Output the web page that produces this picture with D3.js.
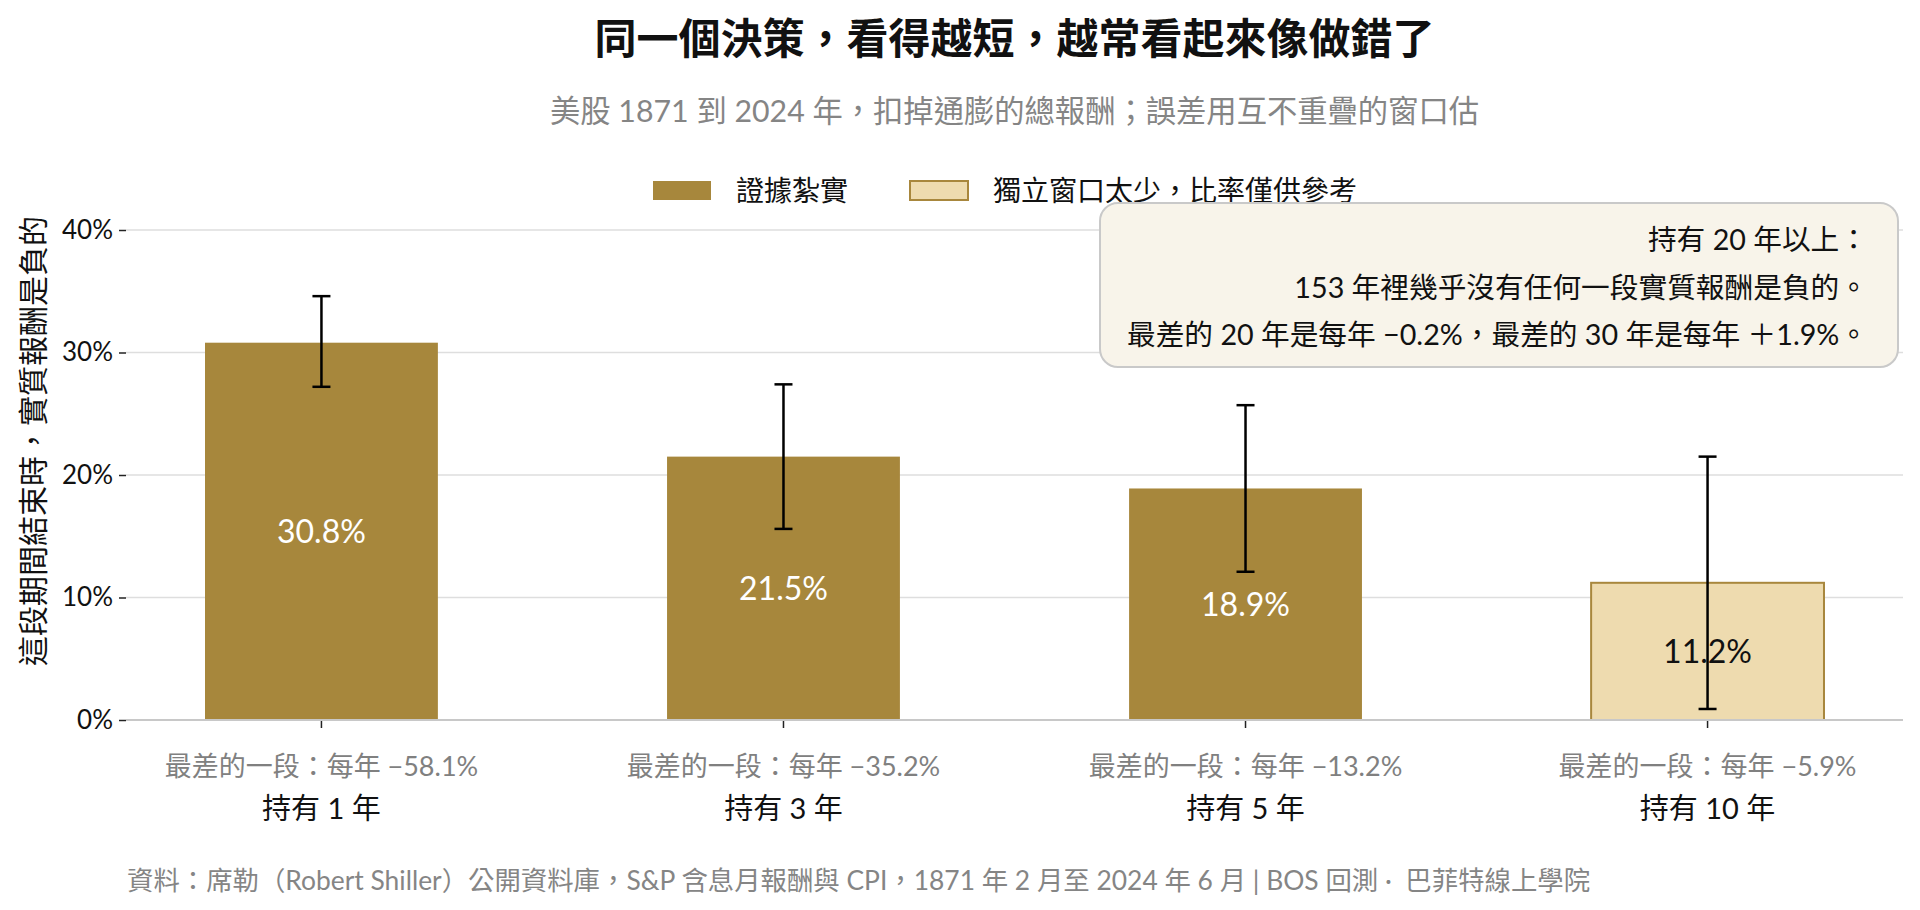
<!DOCTYPE html>
<html><head><meta charset="utf-8">
<script src="https://cdn.jsdelivr.net/npm/d3@7"></script>
<style>
html,body{margin:0;padding:0;background:#fff;}
svg{display:block;}
text{font-family:"Lato","Noto Sans CJK TC",sans-serif;}
</style></head>
<body><div id="chart"></div>
<script>
// ---- data ----
const categories = ["持有 1 年", "持有 3 年", "持有 5 年", "持有 10 年"];
const values = [30.8, 21.5, 18.9, 11.2];
const errLow = [27.2, 15.6, 12.1, 0.9];
const errHigh = [34.6, 27.4, 25.7, 21.5];
const worstLabels = ["−58.1%", "−35.2%", "−13.2%", "−5.9%"];
const robust = [true, true, true, false];
const yTicks = [0, 10, 20, 30, 40];
const legendLabels = ["證據紮實", "獨立窗口太少，比率僅供參考"];
const noteLines = ["持有 20 年以上：", "153 年裡幾乎沒有任何一段實質報酬是負的。", "最差的 20 年是每年 −0.2%，最差的 30 年是每年 ＋1.9%。"];
const title = "同一個決策，看得越短，越常看起來像做錯了";
const subtitle = "美股 1871 到 2024 年，扣掉通膨的總報酬；誤差用互不重疊的窗口估";
const yLabel = "這段期間結束時，實質報酬是負的";
const footer = "資料：席勒（Robert Shiller）公開資料庫，S&P 含息月報酬與 CPI，1871 年 2 月至 2024 年 6 月 | BOS 回測 ·  巴菲特線上學院";

const W = 1920, H = 910;
const C_SOLID = "#a7873c", C_LIGHT = "#eedbaf", C_EDGE = "#a8873d";
const left = 126, right = 1903, y0 = 720, y40 = 230;
const cx = (left + right) / 2;

const svg = d3.select("#chart").append("svg").attr("width", W).attr("height", H);

const x = d3.scaleBand().domain(categories).range([left, right]).paddingInner(0.496).paddingOuter(0.171);
const y = d3.scaleLinear().domain([0, 40]).range([y0, y40]);

// grid
svg.append("g").selectAll("line").data(yTicks.filter(d => d > 0)).join("line")
  .attr("x1", left).attr("x2", right).attr("y1", d => y(d)).attr("y2", d => y(d))
  .attr("stroke", "#dedede").attr("stroke-width", 1.5);

// y axis
const yAxis = svg.append("g").attr("transform", `translate(${left},0)`)
  .call(d3.axisLeft(y).tickValues(yTicks).tickFormat(d => d + "%").tickSize(7).tickPadding(6));
yAxis.select(".domain").remove();
yAxis.selectAll(".tick line").attr("stroke", "#222").attr("stroke-width", 1.5);
yAxis.selectAll(".tick text").attr("font-size", 26).attr("fill", "#111").attr("font-family", "Lato, 'Noto Sans CJK TC'");

// bars
svg.append("g").selectAll("rect").data(categories).join("rect")
  .attr("x", d => x(d)).attr("width", x.bandwidth())
  .attr("y", (d, i) => y(values[i])).attr("height", (d, i) => y(0) - y(values[i]))
  .attr("fill", (d, i) => robust[i] ? C_SOLID : C_LIGHT)
  .attr("stroke", (d, i) => robust[i] ? "none" : C_EDGE).attr("stroke-width", 2);

// bottom spine
svg.append("line").attr("x1", left).attr("x2", right).attr("y1", y0).attr("y2", y0)
  .attr("stroke", "#c8c8c8").attr("stroke-width", 2);

// x axis ticks + labels
const xAxis = svg.append("g").attr("transform", `translate(0,${y0 + 1})`)
  .call(d3.axisBottom(x).tickSize(7).tickFormat(""));
xAxis.select(".domain").remove();
xAxis.selectAll(".tick line").attr("stroke", "#222").attr("stroke-width", 1.5);

svg.append("g").selectAll("text").data(categories).join("text")
  .attr("x", d => x(d) + x.bandwidth() / 2).attr("y", 776)
  .attr("text-anchor", "middle").attr("font-size", 27).attr("fill", "#808080")
  .text((d, i) => "最差的一段：每年 " + worstLabels[i]);
svg.append("g").selectAll("text").data(categories).join("text")
  .attr("x", d => x(d) + x.bandwidth() / 2).attr("y", 819)
  .attr("text-anchor", "middle").attr("font-size", 29).attr("fill", "#111")
  .text(d => d);

// bar value labels
svg.append("g").selectAll("text").data(categories).join("text")
  .attr("x", d => x(d) + x.bandwidth() / 2)
  .attr("y", (d, i) => y(values[i] / 2))
  .attr("dy", "0.36em").attr("text-anchor", "middle").attr("font-size", 32)
  .attr("fill", (d, i) => robust[i] ? "#fff" : "#111")
  .text((d, i) => values[i].toFixed(1) + "%");

// error bars
const eb = svg.append("g").attr("stroke", "#000").attr("stroke-width", 2.5);
categories.forEach((c, i) => {
  const xc = x(c) + x.bandwidth() / 2;
  eb.append("line").attr("x1", xc).attr("x2", xc).attr("y1", y(errLow[i])).attr("y2", y(errHigh[i]));
  eb.append("line").attr("x1", xc - 9).attr("x2", xc + 9).attr("y1", y(errLow[i])).attr("y2", y(errLow[i]));
  eb.append("line").attr("x1", xc - 9).attr("x2", xc + 9).attr("y1", y(errHigh[i])).attr("y2", y(errHigh[i]));
});

// title / subtitle
svg.append("text").attr("x", cx).attr("y", 54).attr("text-anchor", "middle")
  .attr("font-size", 42).attr("font-weight", 700).attr("fill", "#111").text(title);
svg.append("text").attr("x", cx).attr("y", 122).attr("text-anchor", "middle")
  .attr("font-size", 30.3).attr("fill", "#858585").text(subtitle);

// legend
const lg = svg.append("g");
const legendX = [653, 910];
legendLabels.forEach((t, i) => {
  lg.append("rect").attr("x", legendX[i]).attr("y", 181).attr("width", 58).attr("height", 19)
    .attr("fill", i === 0 ? C_SOLID : C_LIGHT).attr("stroke", i === 0 ? "none" : C_EDGE).attr("stroke-width", 2);
  lg.append("text").attr("x", legendX[i] + 83).attr("y", 201).attr("font-size", 28).attr("fill", "#111").text(t);
});

// annotation box
svg.append("rect").attr("x", 1100).attr("y", 203).attr("width", 798).attr("height", 164)
  .attr("rx", 18).attr("fill", "#f8f4ea").attr("stroke", "#c9c9c9").attr("stroke-width", 2);
svg.append("g").selectAll("text").data(noteLines).join("text")
  .attr("x", 1868).attr("y", (d, i) => 250 + i * 47.5).attr("text-anchor", "end")
  .attr("font-size", 28.7).attr("fill", "#111").text(d => d);

// y label
svg.append("text").attr("transform", "translate(44,441) rotate(-90)").attr("text-anchor", "middle")
  .attr("font-size", 30).attr("fill", "#111").text(yLabel);

// footer
svg.append("text").attr("x", 127).attr("y", 890).attr("font-size", 26.4).attr("fill", "#858585")
  .style("white-space", "pre").text(footer);
</script></body></html>
